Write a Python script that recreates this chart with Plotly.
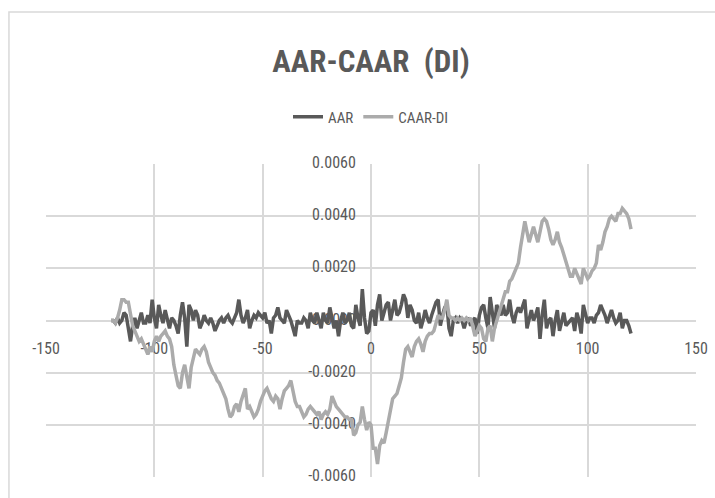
import plotly.graph_objects as go

# Event window (days relative to the event)
days = list(range(-120, 121))

# Average abnormal return per day
aar = [
    0.0000, 0.0000, -0.0001, 0.0001, -0.0001, 0.0000, 0.0003, 0.0002, -0.0003, -0.0008,
    -0.0002, 0.0001, -0.0003, 0.0000, 0.0003, -0.0001, -0.0001, 0.0002, -0.0001, 0.0008,
    0.0001, -0.0003, 0.0006, 0.0002, -0.0001, 0.0004, 0.0001, -0.0003, 0.0001, 0.0000,
    -0.0002, -0.0005, 0.0002, 0.0007, 0.0001, -0.0010, 0.0006, 0.0004, 0.0000, 0.0004,
    0.0002, -0.0003, -0.0001, 0.0002, 0.0000, -0.0001, 0.0001, -0.0001, -0.0004, -0.0002,
    0.0000, 0.0001, -0.0001, 0.0001, 0.0002, 0.0000, -0.0001, 0.0001, 0.0003, 0.0008,
    0.0002, -0.0001, 0.0001, 0.0004, -0.0003, 0.0000, 0.0002, 0.0001, 0.0003, 0.0002,
    0.0001, 0.0003, -0.0001, 0.0000, -0.0005, 0.0001, 0.0002, 0.0005, 0.0001, 0.0000,
    -0.0001, 0.0004, 0.0002, 0.0000, -0.0003, -0.0006, 0.0000, -0.0001, -0.0001, 0.0001,
    0.0000, -0.0003, 0.0003, 0.0000, -0.0001, 0.0003, 0.0000, -0.0003, 0.0003, 0.0000,
    -0.0001, 0.0005, 0.0001, -0.0003, 0.0000, -0.0006, 0.0000, 0.0003, -0.0001, 0.0000,
    0.0003, -0.0002, -0.0003, 0.0006, 0.0001, -0.0002, 0.0012, 0.0001, -0.0005, -0.0004,
    0.0003, 0.0004, -0.0002, 0.0006, 0.0010, 0.0000, 0.0003, 0.0006, 0.0007, 0.0000,
    0.0004, 0.0008, 0.0002, 0.0003, 0.0006, 0.0010, 0.0008, 0.0001, 0.0006, 0.0004,
    0.0000, -0.0001, 0.0003, -0.0003, 0.0000, 0.0004, 0.0001, -0.0001, 0.0002, 0.0005,
    0.0007, 0.0008, -0.0002, 0.0002, 0.0005, 0.0006, -0.0003, -0.0006, 0.0000, 0.0001,
    -0.0001, 0.0001, 0.0000, -0.0003, 0.0000, 0.0001, -0.0002, 0.0000, 0.0001, -0.0005,
    0.0002, 0.0005, 0.0006, 0.0001, -0.0003, 0.0009, 0.0002, -0.0003, 0.0006, 0.0004,
    0.0002, 0.0006, 0.0002, 0.0003, 0.0008, 0.0002, -0.0001, 0.0003, 0.0005, 0.0003,
    0.0006, 0.0008, -0.0003, 0.0001, 0.0004, 0.0000, 0.0002, 0.0005, -0.0007, 0.0002,
    0.0008, -0.0003, 0.0000, 0.0001, -0.0006, 0.0000, 0.0004, -0.0004, 0.0000, 0.0003,
    -0.0002, -0.0001, 0.0000, 0.0001, -0.0004, 0.0003, 0.0000, -0.0005, 0.0006, 0.0002,
    -0.0001, 0.0001, 0.0001, -0.0001, 0.0002, 0.0003, 0.0006, 0.0004, 0.0002, -0.0001,
    0.0002, 0.0004, 0.0001, -0.0001, 0.0000, 0.0003, -0.0003, 0.0000, 0.0000, -0.0002,
    -0.0005,
]

# Cumulative average abnormal return
caar_di = [
    0.0000, 0.0000, -0.0001, 0.0001, 0.0004, 0.0008, 0.0008, 0.0007, 0.0007, 0.0002,
    -0.0002, -0.0004, -0.0006, -0.0008, -0.0007, -0.0009, -0.0011, -0.0013, -0.0010, -0.0012,
    -0.0008, -0.0006, -0.0008, -0.0006, -0.0005, -0.0004, -0.0006, -0.0007, -0.0010, -0.0017,
    -0.0021, -0.0025, -0.0026, -0.0020, -0.0017, -0.0022, -0.0026, -0.0018, -0.0014, -0.0011,
    -0.0012, -0.0013, -0.0011, -0.0010, -0.0012, -0.0016, -0.0018, -0.0020, -0.0021, -0.0023,
    -0.0024, -0.0026, -0.0028, -0.0030, -0.0034, -0.0037, -0.0036, -0.0033, -0.0032, -0.0035,
    -0.0031, -0.0028, -0.0026, -0.0034, -0.0033, -0.0035, -0.0037, -0.0036, -0.0034, -0.0031,
    -0.0029, -0.0027, -0.0026, -0.0028, -0.0030, -0.0031, -0.0029, -0.0030, -0.0034, -0.0030,
    -0.0027, -0.0026, -0.0025, -0.0023, -0.0027, -0.0031, -0.0033, -0.0033, -0.0035, -0.0037,
    -0.0036, -0.0034, -0.0033, -0.0034, -0.0035, -0.0036, -0.0035, -0.0038, -0.0036, -0.0035,
    -0.0036, -0.0034, -0.0029, -0.0031, -0.0033, -0.0034, -0.0035, -0.0036, -0.0037, -0.0037,
    -0.0038, -0.0038, -0.0044, -0.0043, -0.0040, -0.0039, -0.0033, -0.0038, -0.0042, -0.0039,
    -0.0040, -0.0049, -0.0049, -0.0055, -0.0048, -0.0046, -0.0047, -0.0043, -0.0038, -0.0033,
    -0.0030, -0.0029, -0.0028, -0.0025, -0.0022, -0.0016, -0.0011, -0.0010, -0.0012, -0.0014,
    -0.0010, -0.0008, -0.0007, -0.0009, -0.0012, -0.0008, -0.0006, -0.0005, -0.0005, -0.0004,
    -0.0001, 0.0002, 0.0001, 0.0001, 0.0004, 0.0008, 0.0002, 0.0001, 0.0001, 0.0000,
    0.0001, 0.0000, 0.0001, 0.0000, 0.0001, 0.0000, 0.0001, -0.0002, -0.0006, -0.0004,
    -0.0002, -0.0003, -0.0007, -0.0008, -0.0003, -0.0002, -0.0008, -0.0003, 0.0000, 0.0002,
    0.0005, 0.0008, 0.0011, 0.0011, 0.0015, 0.0016, 0.0018, 0.0020, 0.0022, 0.0028,
    0.0033, 0.0038, 0.0034, 0.0030, 0.0033, 0.0036, 0.0033, 0.0030, 0.0034, 0.0038,
    0.0039, 0.0038, 0.0035, 0.0031, 0.0029, 0.0031, 0.0034, 0.0030, 0.0028, 0.0025,
    0.0022, 0.0019, 0.0017, 0.0017, 0.0020, 0.0018, 0.0016, 0.0014, 0.0020, 0.0018,
    0.0016, 0.0017, 0.0019, 0.0020, 0.0022, 0.0029, 0.0027, 0.0030, 0.0034, 0.0036,
    0.0039, 0.0040, 0.0039, 0.0038, 0.0041, 0.0041, 0.0043, 0.0042, 0.0041, 0.0039,
    0.0035,
]

x_ticks = [-150, -100, -50, 0, 50, 100, 150]
x_tick_labels = ["-150", "-100", "-50", "0", "50", "100", "150"]
y_ticks = [0.006, 0.004, 0.002, 0.0, -0.002, -0.004, -0.006]
y_tick_labels = ["0.0060", "0.0040", "0.0020", "0.0000", "-0.0020", "-0.0040", "-0.0060"]

FONT = "Roboto Condensed, Liberation Sans Narrow, Roboto, sans-serif"
GRID = "#d9d9d9"
TEXT = "#595959"

fig = go.Figure()

# Tick labels sit on the crossing axes (drawn first so the series lie above them)
fig.add_trace(go.Scatter(
    x=[-7] * len(y_ticks), y=y_ticks, text=y_tick_labels, mode="text",
    textposition="middle left", textfont=dict(family=FONT, size=16, color=TEXT),
    showlegend=False, hoverinfo="skip", cliponaxis=False,
))
fig.add_trace(go.Scatter(
    x=x_ticks, y=[-0.00112] * len(x_ticks), text=x_tick_labels, mode="text",
    textposition="middle center", textfont=dict(family=FONT, size=16, color=TEXT),
    showlegend=False, hoverinfo="skip", cliponaxis=False,
))

fig.add_trace(go.Scatter(
    x=days, y=aar, name="AAR", mode="lines",
    line=dict(color="#595959", width=3.5),
))
fig.add_trace(go.Scatter(
    x=days, y=caar_di, name="CAAR-DI", mode="lines",
    line=dict(color="#ababab", width=3.5),
))

axis_common = dict(
    showgrid=True, gridcolor=GRID, gridwidth=1.5,
    zeroline=True, zerolinecolor=GRID, zerolinewidth=1.5,
    showline=False, showticklabels=False, ticks="",
)
fig.update_xaxes(range=[-150, 150], tickvals=x_ticks, **axis_common)
fig.update_yaxes(range=[-0.006, 0.006], tickvals=y_ticks, **axis_common)

# Light frame around the chart area
fig.add_shape(
    type="rect", xref="paper", yref="paper",
    x0=-0.057, x1=1.05, y0=-0.1, y1=1.486,
    line=dict(color=GRID, width=1.5), fillcolor="rgba(0,0,0,0)", layer="below",
)

fig.update_layout(
    width=715, height=498,
    margin=dict(l=46, r=19, t=164, b=21),
    paper_bgcolor="white", plot_bgcolor="white",
    title=dict(
        text="<b>AAR-CAAR  (DI)</b>", xref="paper", x=0.5, xanchor="center",
        y=0.878, yanchor="middle",
        font=dict(family=FONT, size=31, color=TEXT),
    ),
    legend=dict(
        orientation="h", x=0.5, xanchor="center", y=1.15, yanchor="middle",
        font=dict(family=FONT, size=15, color=TEXT),
        itemwidth=30, bgcolor="rgba(0,0,0,0)",
    ),
    showlegend=True,
)

fig.write_html("out.html")
